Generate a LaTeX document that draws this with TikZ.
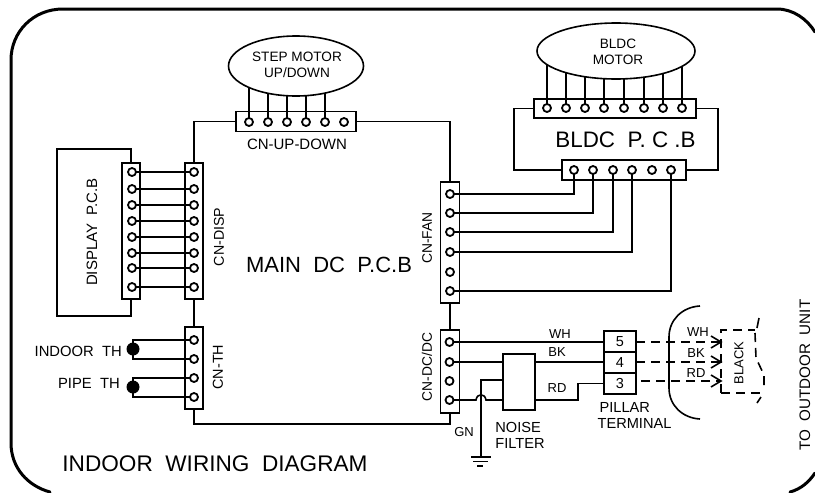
\documentclass[tikz,border=0pt]{standalone}
\usepackage{fontspec}
\setmainfont{Liberation Sans}
\usetikzlibrary{backgrounds,calc,shapes.geometric}
\tikzset{
  wire/.style={line width=1.6pt,draw=black},
  frame/.style={line width=3pt,draw=black,line cap=round},
  conn/.style={draw=black,line width=1.6pt,inner sep=0pt,outer sep=0pt,rectangle},
  pin/.style={circle,draw=black,fill=white,line width=1.8pt,minimum size=8pt,inner sep=0pt,outer sep=0pt},
  motor/.style={ellipse,draw=black,fill=white,line width=1.6pt,inner sep=0pt,outer sep=0pt},
  bead/.style={circle,fill=black,minimum size=13pt,inner sep=0pt,outer sep=0pt},
  term/.style={conn,minimum width=32pt,minimum height=21pt,font=\fontsize{14.5}{14.5}\selectfont},
  lab/.style={inner sep=0pt,font=\fontsize{14.8}{14.8}\selectfont,align=center},
  rotlab/.style={inner sep=0pt,rotate=90,font=\fontsize{13.8}{13.8}\selectfont},
  motorlab/.style={inner sep=0pt,font=\fontsize{13.6}{16}\selectfont,align=center},
  smalllab/.style={inner sep=0pt,font=\fontsize{13}{15}\selectfont,align=center},
  biglab/.style={inner sep=0pt,font=\fontsize{22.6}{22.6}\selectfont},
  dashwire/.style={wire,dash pattern=on 9pt off 6pt},
}
\begin{document}
\begin{tikzpicture}[x=1pt,y=-1pt]
\useasboundingbox (0,0) rectangle (815,493);
% outer frame
\draw[frame] (50,492) .. controls (28,486) and (11,468) .. (11,443) -- (11,60)
  .. controls (11,32) and (33,9) .. (63,9) -- (777,9) .. controls (793,9) and (807,19) .. (815,32);
\draw[frame] (815,473) .. controls (809,482) and (801,489) .. (790,492);
% connectors
\node[conn,minimum width=120pt,minimum height=20pt] (cnup) at (296,121.5) {};
\node[conn,minimum width=18pt,minimum height=136pt] (cndisp) at (194,231) {};
\node[conn,minimum width=18pt,minimum height=136pt] (dispc) at (131,231) {};
\node[conn,minimum width=18pt,minimum height=82pt] (cnth) at (194,368) {};
\node[conn,minimum width=19pt,minimum height=121pt] (cnfan) at (450,242.5) {};
\node[conn,minimum width=19pt,minimum height=83pt] (cndc) at (450,371.5) {};
\node[conn,minimum width=162pt,minimum height=19pt] (bu) at (615,108.5) {};
\node[conn,minimum width=124pt,minimum height=20pt] (bl) at (624,170) {};
% motors
\node[motor,minimum width=135pt,minimum height=60pt] (stepm) at (296,66) {};
\node[motor,minimum width=158pt,minimum height=56pt] (bldcm) at (616,51) {};
\node[motorlab] (stepl) at (297,65) {STEP MOTOR\\UP/DOWN};
\node[motorlab] (bldcl) at (618,51.5) {BLDC\\MOTOR};
% pins
\foreach \i/\x in {1/249,2/268,3/287,4/306,5/325,6/344} \node[pin] (up\i) at (\x,122) {};
\foreach \i/\x in {1/547,2/566,3/585,4/604,5/624,6/644,7/663,8/682} \node[pin] (bu\i) at (\x,108) {};
\foreach \i/\x in {1/574,2/593,3/613,4/632,5/652,6/671} \node[pin] (bl\i) at (\x,170) {};
\foreach \i/\y in {1/172,2/189,3/205,4/221,5/237,6/253,7/268,8/287} {
  \node[pin] (dl\i) at (132,\y) {};
  \node[pin] (dr\i) at (194,\y) {};
}
\foreach \i/\y in {1/340,2/359,3/378,4/397} \node[pin] (th\i) at (194,\y) {};
\foreach \i/\y in {1/194,2/213,3/232,4/252,5/272,6/291} \node[pin] (fan\i) at (450,\y) {};
\foreach \i/\y in {1/342,2/362,3/381,4/400} \node[pin] (dc\i) at (449.5,\y) {};
% terminal and filter
\node[term] (t5) at (620,341.5) {5};
\node[term] (t4) at (620,362.5) {4};
\node[term] (t3) at (620,383.5) {3};
\node[conn,minimum width=32pt,minimum height=56pt] (nf) at (519,382) {};
% thermistor beads
\node[bead] (b1) at (133,349) {};
\node[bead] (b2) at (133,387) {};
% named corners and free ends
\coordinate (mainbl) at (195,424);
\coordinate (dtl) at (131,149);
\coordinate (dtl2) at (57,149);
\coordinate (dbl2) at (57,316);
\coordinate (dbl) at (131,316);
\coordinate (bcl1) at (514,108.5);
\coordinate (bcl2) at (514,170);
\coordinate (bcr1) at (718,108.5);
\coordinate (bcr2) at (718,170);
\coordinate (tip5) at (721,342);
\coordinate (tip4) at (721,362);
\coordinate (tip3) at (721,381);
\coordinate (d3) at (641,381);
\coordinate (gtop) at (481,380);
\coordinate (gnd) at (481,457);
\coordinate (jog1) at (578,400);
\coordinate (jog2) at (578,383.5);
\begin{scope}[on background layer]
% main PCB outline
\draw[wire] (cnup.west) -| (cndisp.north);
\draw[wire] (cndisp.south) -- (cnth.north);
\draw[wire] (cnth.south) |- (mainbl) -| (cndc.south);
\draw[wire] (cndc.north) -- (cnfan.south);
\draw[wire] (cnup.east) -| (cnfan.north);
% motor leads
\foreach \i in {1,...,5} \draw[wire] (up\i) -- (up\i |- stepm.center);
\foreach \i in {1,...,8} \draw[wire] (bu\i) -- (bu\i |- bldcm.center);
% display
\foreach \i in {1,...,8} \draw[wire] (dl\i) -- (dr\i);
\draw[wire] (dispc.north) -- (dtl) -- (dtl2) -- (dbl2) -- (dbl) -- (dispc.south);
% thermistors
\draw[wire] (th1) -| (b1.center) |- (th2);
\draw[wire] (th3) -| (b2.center) |- (th4);
% BLDC pcb
\draw[wire] (bu.west) -- (bcl1) -- (bcl2) -- (bl.west);
\draw[wire] (bu.east) -- (bcr1) -- (bcr2) -- (bl.east);
% fan
\draw[wire] (fan1) -| (bl1);
\draw[wire] (fan2) -| (bl2);
\draw[wire] (fan3) -| (bl3);
\draw[wire] (fan4) -| (bl4);
\draw[wire] (fan6) -| (bl6);
% DC
\draw[wire] (dc1) -- (dc1 -| t5.west);
\draw[wire] (dc2) -- (dc2 -| nf.west);
\draw[wire] (dc2 -| nf.east) -- (dc2 -| t4.west);
\draw[wire] (dc4) -- (476,400) .. controls (477,393) and (485,393) .. (486,400) -- (dc4 -| nf.west);
\draw[wire] (gtop -| nf.west) -- (gtop) -- (gnd);
\draw[wire] (dc4 -| nf.east) -- (jog1) -- (jog2) -- (t3.west);
% ground
\draw[wire] (471,457) -- (491,457);
\draw[wire] (473,461.5) -- (488,461.5);
\draw[wire] (477,466) -- (483,466);
% dashed
\draw[dashwire] (t5.east |- tip5) -- (tip5);
\draw[dashwire] (t4.east |- tip4) -- (tip4);
\draw[dashwire] (d3) -- (tip3);
\foreach \t in {tip5,tip4,tip3}
  \draw[wire] ($(\t)+(-10,-6)$) -- (\t) -- ($(\t)+(-10,6)$);
% plug
\draw[dashwire] (721,393) -- (721,330) -- (755,330);
\draw[wire] (759,318) -- (757,328);
\draw[dashwire] (755,333) -- (756,358) -- (764,375) -- (764,388);
\draw[dashwire] (721,393) -- (761,393);
\draw[wire] (761,397) -- (757,403);
% bracket
\draw[wire] (700,306) .. controls (682,307) and (669,320) .. (669,337) -- (669,388) .. controls (669,405) and (682,418) .. (700,419);
\end{scope}
% labels
\node[lab,font=\fontsize{15}{15}\selectfont] (l1) at (297,144) {CN-UP-DOWN};
\node[rotlab,font=\fontsize{14.2}{14.2}\selectfont] (l2) at (219,237) {CN-DISP};
\node[rotlab,font=\fontsize{14.4}{14.4}\selectfont] (l3) at (218,367) {CN-TH};
\node[rotlab] (l4) at (427,238) {CN-FAN};
\node[rotlab] (l5) at (427,367) {CN-DC/DC};
\node[inner sep=0pt,font=\fontsize{15}{15}\selectfont,rotate=90] (l6) at (92,232) {DISPLAY\ \ P.C.B};
\node[biglab,font=\fontsize{22}{22}\selectfont] (l7) at (329,265) {MAIN\ \ DC\ \ P.C.B};
\node[biglab] (l8) at (215,463.5) {INDOOR\ \ WIRING\ \ DIAGRAM};
\node[inner sep=0pt,font=\fontsize{22.4}{22.4}\selectfont] (l9) at (625.5,140) {BLDC\ \ P. C .B};
\node[lab,anchor=east] (l10) at (122,351) {INDOOR\ \ TH};
\node[lab,anchor=east] (l11) at (120,383) {PIPE\ \ TH};
\node[smalllab] (w1) at (560,334) {WH};
\node[smalllab] (w2) at (557,352) {BK};
\node[smalllab] (w3) at (557,388) {RD};
\node[smalllab] (w4) at (698,332) {WH};
\node[smalllab] (w5) at (696,353) {BK};
\node[smalllab] (w6) at (696,373) {RD};
\node[smalllab] (gn) at (464,432.5) {GN};
\node[lab,align=left,font=\fontsize{14.6}{16}\selectfont] (nfl) at (520,435) {NOISE\\FILTER};
\node[lab,align=left,font=\fontsize{14.6}{16}\selectfont] (ptl) at (634.5,415) {\hspace*{2pt}PILLAR\\TERMINAL};
\node[inner sep=0pt,rotate=90,font=\fontsize{13}{13}\selectfont] (bk) at (739,363) {BLACK};
\node[inner sep=0pt,rotate=90,font=\fontsize{15.2}{15.2}\selectfont] (tou) at (805,375) {TO\ \ OUTDOOR\ \ UNIT};
\end{tikzpicture}
\end{document}
